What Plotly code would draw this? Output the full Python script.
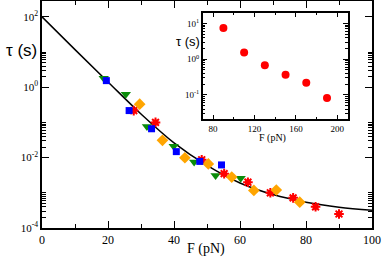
import plotly.graph_objects as go

# ---- data ----
green_F = [18.7, 25.4, 31.8, 39.9, 46.1, 52.6, 60.2]
green_tau = [1.8, 0.63, 0.077, 0.021, 0.0075, 0.0031, 0.0026]

blue_F = [19.5, 26.4, 33.2, 40.7, 47.8, 54.4]
blue_tau = [1.54, 0.217, 0.066, 0.0148, 0.0078, 0.0062]

orange_F = [29.6, 36.5, 43.3, 50.4, 57.5, 64.2, 71.0, 78.1]
orange_tau = [0.33, 0.031, 0.0099, 0.0066, 0.0028, 0.00117, 0.0012, 0.00054]

red_F = [27.8, 34.4, 48.4, 55.2, 62.4, 69.2, 76.1, 82.9, 90.0]
red_tau = [0.217, 0.10, 0.0087, 0.0035, 0.0020, 0.0010, 0.00072, 0.0004, 0.00025]

curve_F = [0, 10, 20, 30, 40, 50, 60, 70, 80, 90, 100]
curve_tau = [100, 11.7, 1.41, 0.174, 0.0263, 0.0060, 0.0019, 0.00089, 0.00054, 0.00039, 0.00032]

inset_F = [90, 110, 130, 150, 170, 190]
inset_tau = [7.4, 1.55, 0.68, 0.37, 0.22, 0.082]

main_x_ticks = [0, 20, 40, 60, 80, 100]
main_y_ticks = [1e-4, 1e-2, 1, 1e2]
main_y_text = ["10<sup>-4</sup>", "10<sup>-2</sup>", "10<sup>0</sup>", "10<sup>2</sup>"]
inset_x_ticks = [80, 120, 160, 200]
inset_y_ticks = [0.1, 1, 10]
inset_y_text = ["10<sup>-1</sup>", "10<sup>0</sup>", "10<sup>1</sup>"]

serif = "Liberation Serif"
sans = "Liberation Sans"

W, H = 382, 257
L, R, T, B = 42, 10, 1, 29
PW, PH = W - L - R, H - T - B


def px2paper(px, py):
    return (px - L) / PW, 1 - (py - T) / PH


fig = go.Figure()

fig.add_trace(go.Scatter(x=curve_F, y=curve_tau, mode="lines",
                         line=dict(color="black", width=1.5, shape="spline"),
                         xaxis="x", yaxis="y", showlegend=False))
fig.add_trace(go.Scatter(x=green_F, y=green_tau, mode="markers",
                         marker=dict(symbol="triangle-down", size=9, color="#0a8c0a"),
                         xaxis="x", yaxis="y", showlegend=False))
fig.add_trace(go.Scatter(x=red_F, y=red_tau, mode="markers",
                         marker=dict(symbol="circle", size=6, color="#ff0000"),
                         xaxis="x", yaxis="y", showlegend=False))
fig.add_trace(go.Scatter(x=red_F, y=red_tau, mode="markers",
                         marker=dict(symbol="asterisk-open", size=8, color="#ff0000",
                                     line=dict(color="#ff0000", width=2)),
                         xaxis="x", yaxis="y", showlegend=False))
fig.add_trace(go.Scatter(x=orange_F, y=orange_tau, mode="markers",
                         marker=dict(symbol="diamond", size=9, color="#ffa500"),
                         xaxis="x", yaxis="y", showlegend=False))
fig.add_trace(go.Scatter(x=blue_F, y=blue_tau, mode="markers",
                         marker=dict(symbol="square", size=7, color="#0000ff"),
                         xaxis="x", yaxis="y", showlegend=False))

fig.add_trace(go.Scatter(x=inset_F, y=inset_tau, mode="markers",
                         marker=dict(symbol="circle", size=8, color="#ff0000"),
                         xaxis="x2", yaxis="y2", showlegend=False))

main_y_minor = [k * 10.0 ** n for n in (-4, -2, 0) for k in range(2, 10)] + [1e-3, 1e-1, 10]
inset_y_minor = [k * 10.0 ** n for n in (-2, -1, 0, 1) for k in range(2, 10)]

axis_common = dict(showline=True, linecolor="black", linewidth=1.5, mirror="allticks",
                   ticks="inside", tickcolor="black", tickwidth=1, showgrid=False,
                   zeroline=False, automargin=False)

ann_specs = [
    ("τ (s)", 21, 50, sans, 17),
    ("F (pN)", 206, 249, serif, 14),
    ("τ (s)", 188, 42, sans, 13),
    ("F (pN)", 272, 138, serif, 10),
]
anns = []
for text, px, py, fam, sz in ann_specs:
    ax, ay = px2paper(px, py)
    anns.append(dict(text=text, x=ax, y=ay, xref="paper", yref="paper", showarrow=False,
                     xanchor="center", yanchor="middle",
                     font=dict(family=fam, size=sz, color="black")))

x0, y1 = px2paper(202.7, 12.7)
x1, y0 = px2paper(347.7, 119.3)

fig.update_layout(
    width=W, height=H,
    margin=dict(l=L, r=R, t=T, b=B),
    paper_bgcolor="white", plot_bgcolor="white",
    xaxis=dict(**axis_common, range=[0, 100], tickmode="array", tickvals=main_x_ticks,
               ticklen=7, tickfont=dict(family=serif, size=12, color="black"),
               minor=dict(tickmode="array", tickvals=[10, 30, 50, 70, 90], ticklen=4,
                          ticks="inside", tickcolor="black", tickwidth=1),
               domain=[0, 1]),
    yaxis=dict(**axis_common, type="log", range=[-4, 2.45], tickmode="array",
               tickvals=main_y_ticks, ticktext=main_y_text, ticklen=7,
               tickfont=dict(family=serif, size=11, color="black"),
               minor=dict(tickmode="array", tickvals=main_y_minor, ticklen=4,
                          ticks="inside", tickcolor="black", tickwidth=1),
               domain=[0, 1]),
    xaxis2=dict(**axis_common, range=[70, 210], tickmode="array", tickvals=inset_x_ticks,
                ticklen=5, tickfont=dict(family=serif, size=9, color="black"),
                minor=dict(tickmode="array", tickvals=[100, 140, 180], ticklen=3,
                           ticks="inside", tickcolor="black", tickwidth=1),
                domain=[x0, x1], anchor="y2"),
    yaxis2=dict(**axis_common, type="log", range=[-1.68, 1.30], tickmode="array",
                tickvals=inset_y_ticks, ticktext=inset_y_text, ticklen=5,
                tickfont=dict(family=serif, size=9, color="black"),
                minor=dict(tickmode="array", tickvals=inset_y_minor, ticklen=3,
                           ticks="inside", tickcolor="black", tickwidth=1),
                domain=[y0, y1], anchor="x2"),
    annotations=anns,
)

fig.write_html("out.html", config={"displayModeBar": False},
               post_script="document.body.style.margin='0';document.body.style.padding='0';")
